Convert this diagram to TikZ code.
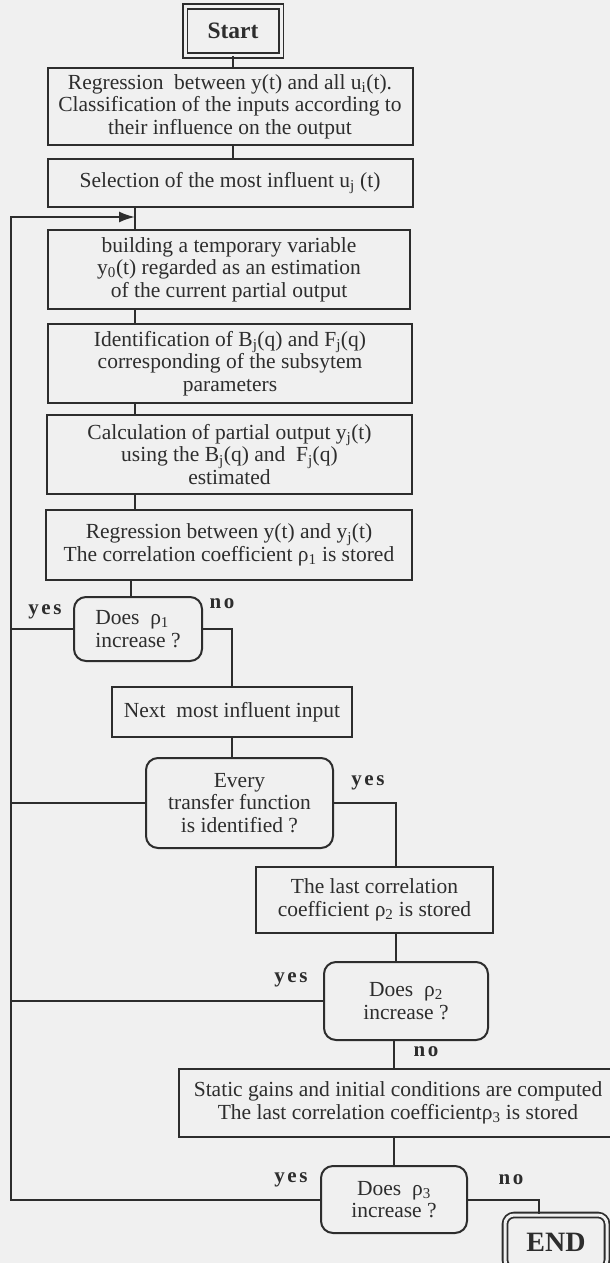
\documentclass[tikz,border=0pt]{standalone}
\usepackage{fontspec}
\setmainfont{Liberation Serif}
\usepackage{tikz}
\usetikzlibrary{positioning,arrows.meta,calc}
\definecolor{scanbg}{RGB}{240,240,240}
\definecolor{inkgray}{RGB}{45,45,45}
\tikzset{
  proc-node/.style={draw=inkgray, line width=2pt, align=center, inner sep=2pt,
    font=\fontsize{21.5}{22.5}\selectfont, text=inkgray},
  decision-node/.style={proc-node, rounded corners=12pt},
  terminal-node/.style={draw=inkgray, double=scanbg, double distance=3pt, line width=1.8pt,
    font=\fontsize{23.5}{26}\selectfont\bfseries, text=inkgray},
  flow-line/.style={draw=inkgray, line width=2pt},
  loop-arrow/.style={flow-line, -{Latex[length=16pt,width=11pt]}},
  branch-label/.style={font=\fontsize{21}{22}\selectfont\bfseries\addfontfeature{LetterSpace=12}, text=inkgray}
}
\begin{document}
\begin{tikzpicture}[x=1pt, y=-1pt]
\fill[scanbg] (0,0) rectangle (610,1263);
\useasboundingbox (0,0) rectangle (610,1263);

% Start and first steps
\node[terminal-node, minimum width=96pt, minimum height=49pt] (start) at (233,31) {Start};
\node[proc-node, minimum width=365pt, minimum height=77pt] (reg) at (230,106.5)
  {Regression\ \ between y(t) and all u\textsubscript{i}(t).\\
   Classification of the inputs according to\\
   their influence on the output};
\node[proc-node, minimum width=365pt, minimum height=48pt] (sel) at (230,183)
  {Selection of the most influent u\textsubscript{j} (t)};

% Loop body
\node[proc-node, minimum width=362pt, minimum height=79pt] (build) at (229,269.5)
  {building a temporary variable\\
   y\textsubscript{0}(t) regarded as an estimation\\
   of the current partial output};
\node[proc-node, minimum width=364pt, minimum height=79pt] (ident) at (230,363.5)
  {Identification of B\textsubscript{j}(q) and F\textsubscript{j}(q)\\
   corresponding of the subsytem\\
   parameters};
\node[proc-node, minimum width=365pt, minimum height=79pt] (calc) at (229.5,454.5)
  {Calculation of partial output y\textsubscript{j}(t)\\
   using the B\textsubscript{j}(q) and\ \ F\textsubscript{j}(q)\\
   estimated};
\node[proc-node, minimum width=366pt, minimum height=70pt] (regr) at (229,545)
  {Regression between y(t) and y\textsubscript{j}(t)\\
   The correlation coefficient ρ\textsubscript{1} is stored};

% Decisions and final steps
\node[decision-node, minimum width=128pt, minimum height=64pt, align=left] (dec1) at (138,629)
  {Does\ \ ρ\textsubscript{1}\\increase ?};
\node[proc-node, minimum width=240pt, minimum height=50pt] (next) at (232,712)
  {Next\ \ most influent input};
\node[decision-node, minimum width=187pt, minimum height=90pt] (dec2) at (239.5,803)
  {Every\\transfer function\\is identified ?};
\node[proc-node, minimum width=237pt, minimum height=66pt] (last) at (374.5,900)
  {The last correlation\\coefficient ρ\textsubscript{2} is stored};
\node[decision-node, minimum width=164pt, minimum height=78pt] (dec3) at (406,1001)
  {Does\ \ ρ\textsubscript{2}\\increase ?};
\node[proc-node, minimum width=438pt, minimum height=68pt] (stat) at (398,1103)
  {Static gains and initial conditions are computed\\
   The last correlation coefficientρ\textsubscript{3} is stored};
\node[decision-node, minimum width=146pt, minimum height=67pt] (dec4) at (394,1199.5)
  {Does\ \ ρ\textsubscript{3}\\increase ?};
\node[terminal-node, rounded corners=9pt, font=\fontsize{28}{30}\selectfont\bfseries,
  minimum width=102pt, minimum height=54pt] (endbox) at (556,1242)
  {END};

% Helper coordinates
\coordinate (rail) at (11,217);
\coordinate (loopin) at (135,217);
\coordinate (col) at (396,0);
\coordinate (endin) at (539,0);

% Straight flow
\draw[flow-line] (start) -- (start |- reg.north);
\draw[flow-line] (reg.south -| start) -- (sel.north -| start);
\draw[flow-line] (sel.south -| loopin) -- (build.north -| loopin);
\draw[flow-line] (build.south -| loopin) -- (ident.north -| loopin);
\draw[flow-line] (ident.south -| loopin) -- (calc.north -| loopin);
\draw[flow-line] (calc.south -| loopin) -- (regr.north -| loopin);
\draw[flow-line] (regr.south -| 131,0) -- (dec1.north -| 131,0);
\draw[flow-line] (dec1.east) -| (next.north);
\draw[flow-line] (next.south) -- (next.south |- dec2.north);
\draw[flow-line] (dec2.east) -| (last.north -| col);
\draw[flow-line] (last.south -| col) -- (dec3.north -| col);
\draw[flow-line] (dec3.south -| 394,0) -- (stat.north -| 394,0);
\draw[flow-line] (stat.south -| dec4) -- (dec4.north);
\draw[flow-line] (dec4.east) -| (endbox.north -| endin);

% Return loop
\draw[loop-arrow] (dec4.west) -| (rail) -- (loopin);
\draw[flow-line] (dec1.west) -- (dec1.west -| rail);
\draw[flow-line] (dec2.west) -- (dec2.west -| rail);
\draw[flow-line] (dec3.west) -- (dec3.west -| rail);

% Branch labels
\node[branch-label] (y1) at (45,612) {yes};
\node[branch-label] (n1) at (222,604) {no};
\node[branch-label] (y2) at (368,783) {yes};
\node[branch-label] (y3) at (291,980) {yes};
\node[branch-label] (n3) at (426,1052) {no};
\node[branch-label] (y4) at (291,1180) {yes};
\node[branch-label] (n4) at (511,1180) {no};
\end{tikzpicture}
\end{document}
